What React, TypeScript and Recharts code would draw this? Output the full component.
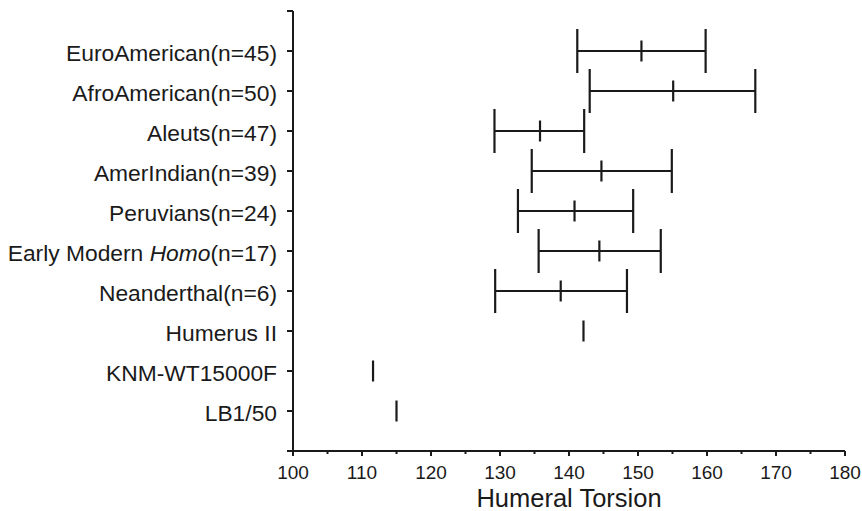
import React from 'react';
import { ScatterChart, Scatter, XAxis, YAxis, ErrorBar, Label } from 'recharts';

const categories = [
  'EuroAmerican(n=45)',
  'AfroAmerican(n=50)',
  'Aleuts(n=47)',
  'AmerIndian(n=39)',
  'Peruvians(n=24)',
  'Early Modern Homo(n=17)',
  'Neanderthal(n=6)',
  'Humerus II',
  'KNM-WT15000F',
  'LB1/50',
];
const means = [150.5, 155.1, 135.8, 144.7, 140.8, 144.4, 138.8, 142.1, 111.6, 115.0];
const lows: (number | null)[] = [141.2, 143.0, 129.2, 134.6, 132.6, 135.6, 129.3, null, null, null];
const highs: (number | null)[] = [159.8, 167.0, 142.2, 154.9, 149.3, 153.3, 148.4, null, null, null];
const xTicks = [100, 105, 110, 115, 120, 125, 130, 135, 140, 145, 150, 155, 160, 165, 170, 175, 180];
const yTicks = [0, 1, 2, 3, 4, 5, 6, 7, 8, 9, 10, 11];

const data = categories.map((name, i) => ({
  name,
  x: means[i],
  y: i + 1,
  err: lows[i] != null && highs[i] != null ? [means[i] - (lows[i] as number), (highs[i] as number) - means[i]] : null,
}));

const INK = '#1a1a1a';
const FONT = '"Liberation Sans", Arial, Helvetica, sans-serif';

const YTick = (props: any) => {
  const { x, y, payload } = props;
  const idx = payload.value - 1;
  if (idx < 0 || idx >= categories.length) return null;
  const label = categories[idx];
  const common = { x, y, dy: 9.5, textAnchor: 'end' as const, fontSize: 22.8, fontFamily: FONT, fill: INK };
  if (label.startsWith('Early Modern Homo')) {
    return (
      <text {...common}>
        <tspan>Early Modern </tspan>
        <tspan fontStyle="italic">Homo</tspan>
        <tspan>(n=17)</tspan>
      </text>
    );
  }
  return <text {...common}>{label}</text>;
};

const XTick = (props: any) => {
  const { x, y, payload } = props;
  const major = payload.value % 10 === 0;
  return (
    <g>
      <line x1={x} x2={x} y1={y} y2={y + (major ? 5 : 3)} stroke={INK} strokeWidth={2} />
      {major && (
        <text x={x} y={y + 28} textAnchor="middle" fontSize={19} fontFamily={FONT} fill={INK}>
          {payload.value}
        </text>
      )}
    </g>
  );
};

const MeanMark = (props: any) => {
  const { cx, cy } = props;
  if (cx == null || cy == null) return null;
  return <line x1={cx} x2={cx} y1={cy - 10.5} y2={cy + 10.5} stroke={INK} strokeWidth={2.2} />;
};

export default function App() {
  return (
    <div style={{ position: 'absolute', left: 0, top: 0, background: '#fff' }}>
      <ScatterChart width={862} height={511} margin={{ top: 11, right: 17, bottom: 0, left: 0 }}>
        <XAxis
          type="number"
          dataKey="x"
          domain={[100, 180]}
          ticks={xTicks}
          interval={0}
          allowDataOverflow
          height={60}
          tickLine={false}
          tickSize={0}
          tickMargin={0}
          tick={<XTick />}
          axisLine={{ stroke: INK, strokeWidth: 2 }}
        >
          <Label
            value="Humeral Torsion"
            position="insideBottom"
            offset={4}
            fontSize={25.5}
            fontFamily={FONT}
            fill={INK}
          />
        </XAxis>
        <YAxis
          type="number"
          dataKey="y"
          domain={[0, 11]}
          ticks={yTicks}
          interval={0}
          reversed
          allowDataOverflow
          width={293}
          tickSize={6}
          tickMargin={10}
          tick={<YTick />}
          tickLine={{ stroke: INK, strokeWidth: 2 }}
          axisLine={{ stroke: INK, strokeWidth: 2 }}
        />
        <Scatter data={data} shape={<MeanMark />} isAnimationActive={false}>
          <ErrorBar dataKey="err" direction="x" width={22} stroke={INK} strokeWidth={2.2} isAnimationActive={false} />
        </Scatter>
      </ScatterChart>
    </div>
  );
}
